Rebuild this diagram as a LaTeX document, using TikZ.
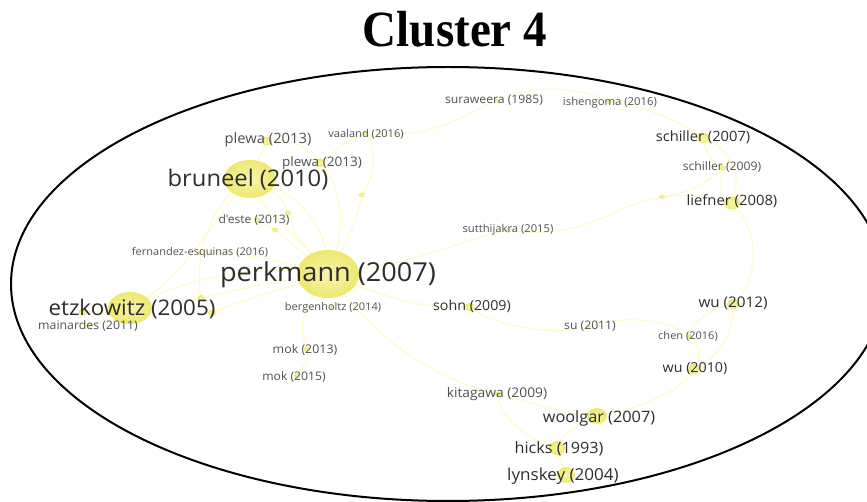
\documentclass[tikz,border=0pt]{standalone}
\usepackage{fontspec}
\usepackage{graphicx}
\usetikzlibrary{shapes.geometric}
\newfontfamily\osans{Open Sans}
\newfontfamily\tserif{Liberation Serif}
\definecolor{edgeY}{RGB}{253,251,196}
\definecolor{dotIn}{RGB}{247,245,175}
\definecolor{dotOut}{RGB}{237,232,110}
\definecolor{txtDark}{RGB}{45,45,45}
\definecolor{txtMid}{RGB}{80,80,80}
\newcommand\lab[2]{\scalebox{1.08}[1.04]{\fontsize{#1}{#1}\selectfont #2}}
\tikzset{
  edge/.style={draw=edgeY, line width=1pt},
  dotnode/.style={ellipse, inner sep=0pt, draw=none, inner color=dotIn, outer color=dotOut},
  lbl/.style={anchor=base, inner sep=0pt, font=\osans, text=txtMid},
  biglbl/.style={lbl, text=txtDark},
}
\begin{document}
\begin{tikzpicture}[x=1pt,y=-1pt]
\useasboundingbox (0,0) rectangle (867,502);
% coordinates of the network nodes
\coordinate (perk) at (328,274);
\coordinate (brun) at (250,179);
\coordinate (etz) at (130,308);
\coordinate (plewaA) at (267,141);
\coordinate (plewaB) at (320,163);
\coordinate (vaal) at (366,134);
\coordinate (deste) at (257,220);
\coordinate (fern) at (200,253);
\coordinate (d1) at (288,213);
\coordinate (d2) at (275,230);
\coordinate (d3) at (362,195);
\coordinate (d4) at (201,298);
\coordinate (d5) at (212,313);
\coordinate (d6) at (83,312);
\coordinate (main) at (88,326);
\coordinate (berg) at (332,307);
\coordinate (mokA) at (307,349);
\coordinate (mokB) at (297,376);
\coordinate (sohn) at (470,307);
\coordinate (su) at (588,327);
\coordinate (chen) at (690,337);
\coordinate (wuA) at (694,369);
\coordinate (wuB) at (733,304);
\coordinate (lief) at (732,203);
\coordinate (schB) at (723,168);
\coordinate (schA) at (703,138);
\coordinate (d7) at (662,197);
\coordinate (sutt) at (508,231);
\coordinate (sura) at (497,101);
\coordinate (ishen) at (609,102);
\coordinate (kita) at (497,394);
\coordinate (wool) at (597,416);
\coordinate (hicks) at (557,448);
\coordinate (lyn) at (566,475);

% cluster outline
\draw[line width=2pt] (448,284) ellipse [x radius=437pt, y radius=217pt];

% edges
\path[edge] (perk) .. controls (300,235) and (262,215) .. (brun);
\path[edge] (perk) .. controls (330,230) and (300,190) .. (brun);
\path[edge] (brun) .. controls (205,205) and (195,260) .. (d4);
\path[edge] (brun) .. controls (215,215) and (185,280) .. (etz);
\path[edge] (plewaA) -- (brun);
\path[edge] (plewaA) .. controls (295,137) and (310,150) .. (plewaB);
\path[edge] (plewaB) .. controls (335,150) and (355,135) .. (vaal);
\path[edge] (vaal) .. controls (380,155) and (372,180) .. (d3);
\path[edge] (d3) .. controls (358,215) and (350,240) .. (perk);
\path[edge] (plewaB) .. controls (340,185) and (350,225) .. (perk);
\path[edge] (brun) .. controls (280,195) .. (d1);
\path[edge] (d1) .. controls (295,235) .. (perk);
\path[edge] (d2) -- (perk);
\path[edge] (deste) -- (d2);
\path[edge] (fern) .. controls (240,250) and (280,262) .. (perk);
\path[edge] (etz) .. controls (170,285) and (240,262) .. (perk);
\path[edge] (d4) .. controls (235,290) and (270,282) .. (perk);
\path[edge] (d5) .. controls (240,300) and (275,292) .. (perk);
\path[edge] (etz) -- (d6);
\path[edge] (etz) -- (main);
\path[edge] (perk) -- (berg);
\path[edge] (perk) .. controls (298,310) and (300,330) .. (mokA);
\path[edge] (mokA) .. controls (310,362) and (300,370) .. (mokB);
\path[edge] (perk) .. controls (390,300) and (430,310) .. (sohn);
\path[edge] (perk) .. controls (370,330) and (420,375) .. (kita);
\path[edge] (perk) .. controls (420,265) and (470,235) .. (sutt);
\path[edge] (sutt) .. controls (590,240) and (610,205) .. (d7);
\path[edge] (d7) .. controls (690,192) and (705,185) .. (schB);
\path[edge] (d7) .. controls (690,193) and (715,198) .. (lief);
\path[edge] (vaal) .. controls (440,140) and (470,110) .. (sura);
\path[edge] (sura) .. controls (520,85) and (580,85) .. (ishen);
\path[edge] (ishen) .. controls (640,105) and (680,120) .. (schA);
\path[edge] (schA) .. controls (705,155) and (715,165) .. (schB);
\path[edge] (schA) .. controls (735,150) and (742,180) .. (lief);
\path[edge] (schB) .. controls (718,185) and (722,200) .. (lief);
\path[edge] (lief) .. controls (760,230) and (760,280) .. (wuB);
\path[edge] (wuB) .. controls (705,310) and (690,325) .. (chen);
\path[edge] (wuB) .. controls (735,335) and (715,360) .. (wuA);
\path[edge] (chen) .. controls (702,345) and (700,360) .. (wuA);
\path[edge] (sohn) .. controls (500,330) and (560,335) .. (su);
\path[edge] (su) .. controls (620,315) and (670,318) .. (chen);
\path[edge] (wuA) .. controls (680,395) and (630,410) .. (wool);
\path[edge] (kita) .. controls (540,405) and (570,415) .. (wool);
\path[edge] (kita) .. controls (500,420) and (530,440) .. (hicks);
\path[edge] (wool) .. controls (580,425) and (560,435) .. (hicks);
\path[edge] (hicks) -- (lyn);

% dots
\node[dotnode, minimum width=62pt, minimum height=48pt] (perkD) at (perk) {};
\node[dotnode, minimum width=52pt, minimum height=38pt] (brunD) at (brun) {};
\node[dotnode, minimum width=44pt, minimum height=32pt] (etzD) at (etz) {};
\node[dotnode, minimum width=11pt, minimum height=9pt] (plewaAD) at (plewaA) {};
\node[dotnode, minimum width=11pt, minimum height=9pt] (plewaBD) at (plewaB) {};
\node[dotnode, minimum width=5pt, minimum height=4pt] (vaalD) at (vaal) {};
\node[dotnode, minimum width=6pt, minimum height=5pt] (desteD) at (deste) {};
\node[dotnode, minimum width=4pt, minimum height=4pt] (fernD) at (fern) {};
\node[dotnode, minimum width=6pt, minimum height=5pt] (d1D) at (d1) {};
\node[dotnode, minimum width=6pt, minimum height=5pt] (d2D) at (d2) {};
\node[dotnode, minimum width=6pt, minimum height=5pt] (d3D) at (d3) {};
\node[dotnode, minimum width=7pt, minimum height=6pt] (d4D) at (d4) {};
\node[dotnode, minimum width=8pt, minimum height=7pt] (d5D) at (d5) {};
\node[dotnode, minimum width=9pt, minimum height=7pt] (d6D) at (d6) {};
\node[dotnode, minimum width=4pt, minimum height=4pt] (mainD) at (main) {};
\node[dotnode, minimum width=4pt, minimum height=4pt] (bergD) at (berg) {};
\node[dotnode, minimum width=6pt, minimum height=5pt] (mokAD) at (mokA) {};
\node[dotnode, minimum width=6pt, minimum height=5pt] (mokBD) at (mokB) {};
\node[dotnode, minimum width=10pt, minimum height=8pt] (sohnD) at (sohn) {};
\node[dotnode, minimum width=4pt, minimum height=4pt] (suD) at (su) {};
\node[dotnode, minimum width=5pt, minimum height=5pt] (chenD) at (chen) {};
\node[dotnode, minimum width=12pt, minimum height=10pt] (wuAD) at (wuA) {};
\node[dotnode, minimum width=12pt, minimum height=10pt] (wuBD) at (wuB) {};
\node[dotnode, minimum width=16pt, minimum height=13pt] (liefD) at (lief) {};
\node[dotnode, minimum width=6pt, minimum height=5pt] (schBD) at (schB) {};
\node[dotnode, minimum width=12pt, minimum height=10pt] (schAD) at (schA) {};
\node[dotnode, minimum width=6pt, minimum height=4pt] (d7D) at (d7) {};
\node[dotnode, minimum width=4pt, minimum height=4pt] (suttD) at (sutt) {};
\node[dotnode, minimum width=4pt, minimum height=4pt] (suraD) at (sura) {};
\node[dotnode, minimum width=4pt, minimum height=4pt] (ishenD) at (ishen) {};
\node[dotnode, minimum width=6pt, minimum height=5pt] (kitaD) at (kita) {};
\node[dotnode, minimum width=20pt, minimum height=16pt] (woolD) at (wool) {};
\node[dotnode, minimum width=16pt, minimum height=14pt] (hicksD) at (hicks) {};
\node[dotnode, minimum width=18pt, minimum height=16pt] (lynD) at (lyn) {};

% labels
\node[biglbl] (perkL) at (328,282) {\lab{25.1}{perkmann (2007)}};
\node[biglbl] (brunL) at (248,187) {\lab{22.0}{bruneel (2010)}};
\node[biglbl] (etzL) at (132,316) {\lab{20.7}{etzkowitz (2005)}};
\node[lbl] (plewaAL) at (268,144) {\lab{13.7}{plewa (2013)}};
\node[lbl] (plewaBL) at (322,167) {\lab{12.6}{plewa (2013)}};
\node[lbl] (vaalL) at (366,138) {\lab{10.3}{vaaland (2016)}};
\node[lbl] (desteL) at (254,224) {\lab{11.2}{d'este (2013)}};
\node[lbl] (fernL) at (200,256) {\lab{10.2}{fernandez-esquinas (2016)}};
\node[lbl] (mainL) at (88,330) {\lab{11.4}{mainardes (2011)}};
\node[lbl] (bergL) at (333,311) {\lab{10.2}{bergenholtz (2014)}};
\node[lbl] (mokAL) at (305,353) {\lab{11.5}{mok (2013)}};
\node[lbl] (mokBL) at (294,380) {\lab{11.3}{mok (2015)}};
\node[biglbl] (sohnL) at (472,311) {\lab{13.2}{sohn (2009)}};
\node[lbl] (suL) at (590,330) {\lab{11.3}{su (2011)}};
\node[lbl] (chenL) at (688,340) {\lab{10.2}{chen (2016)}};
\node[biglbl] (wuAL) at (695,373) {\lab{13.2}{wu (2010)}};
\node[biglbl] (wuBL) at (733,308) {\lab{14.1}{wu (2012)}};
\node[biglbl] (liefL) at (732,206) {\lab{13.7}{liefner (2008)}};
\node[lbl] (schBL) at (722,171) {\lab{11.3}{schiller (2009)}};
\node[biglbl] (schAL) at (703,142) {\lab{13.6}{schiller (2007)}};
\node[lbl] (suttL) at (508,233) {\lab{10.4}{sutthijakra (2015)}};
\node[lbl] (suraL) at (494,104) {\lab{11.3}{suraweera (1985)}};
\node[lbl] (ishenL) at (610,106) {\lab{10.5}{ishengoma (2016)}};
\node[lbl] (kitaL) at (497,397) {\lab{12.8}{kitagawa (2009)}};
\node[biglbl] (woolL) at (599,422) {\lab{15.1}{woolgar (2007)}};
\node[biglbl] (hicksL) at (559,453) {\lab{15.0}{hicks (1993)}};
\node[biglbl] (lynL) at (563,480) {\lab{15.8}{lynskey (2004)}};

% title
\node[anchor=base, inner sep=0pt, font=\tserif\bfseries] (title) at (455,47) {\scalebox{1}[1.08]{\fontsize{47}{47}\selectfont Cluster 4}};
\end{tikzpicture}
\end{document}
